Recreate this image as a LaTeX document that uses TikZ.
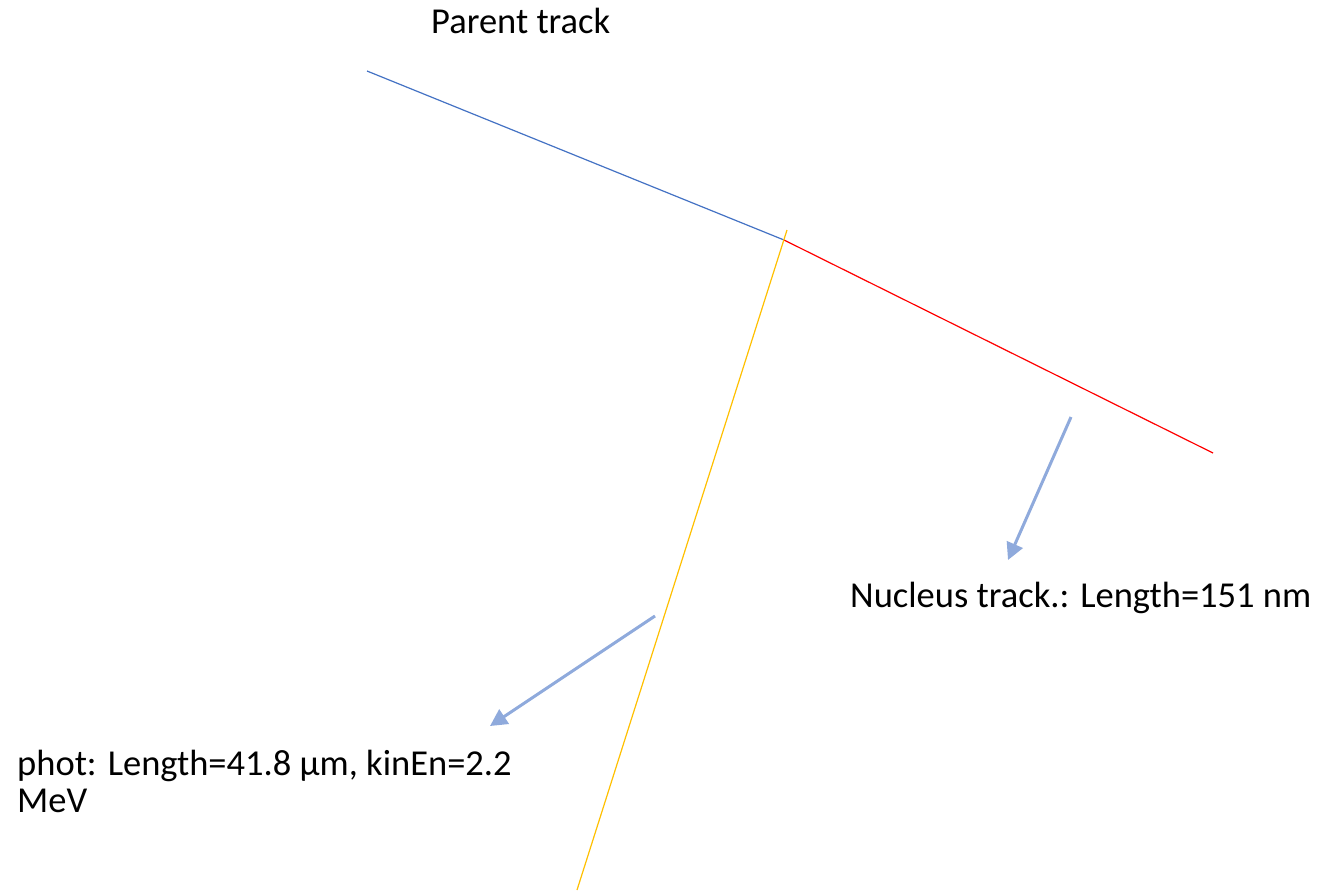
\documentclass[tikz,border=0pt]{standalone}
\usepackage{fontspec}
\setmainfont{Carlito}
\usetikzlibrary{arrows.meta}
\definecolor{parentblue}{HTML}{4472C4}
\definecolor{nucred}{HTML}{FF0000}
\definecolor{photorange}{HTML}{FFC000}
\definecolor{arrowblue}{HTML}{8FAADC}
\tikzset{
  track/.style={line width=1.2pt},
  pointer/.style={draw=arrowblue, line width=3pt, -{Triangle[length=17pt,width=17pt]}},
  label/.style={inner sep=0pt, anchor=base west, font=\fontsize{36.5}{37}\selectfont, align=left}
}
\begin{document}
\begin{tikzpicture}[x=1pt,y=-1pt]
\useasboundingbox[fill=white] (0,0) rectangle (1326,892);
\coordinate (pstart) at (367,71);
\coordinate (vertex) at (784,240);
\coordinate (nend) at (1213,453);
\coordinate (otop) at (787,230);
\coordinate (obot) at (577,890);
\draw[track, draw=parentblue] (pstart) -- (vertex);
\draw[track, draw=nucred] (vertex) -- (nend);
\draw[track, draw=photorange] (otop) -- (obot);
\node[label] (parent) at (431,33) {Parent track};
\node[label] (nuc) at (850,607) {Nucleus track.: Length=151 nm};
\node[label] (phot) at (17,812) {phot: Length=41.8 µm, kinEn=2.2\\MeV};
\coordinate (a1s) at (1071,417);
\coordinate (a1e) at (1008,560);
\coordinate (a2s) at (655,616);
\coordinate (a2e) at (490,726);
\draw[pointer] (a1s) -- (a1e);
\draw[pointer] (a2s) -- (a2e);
\end{tikzpicture}
\end{document}
